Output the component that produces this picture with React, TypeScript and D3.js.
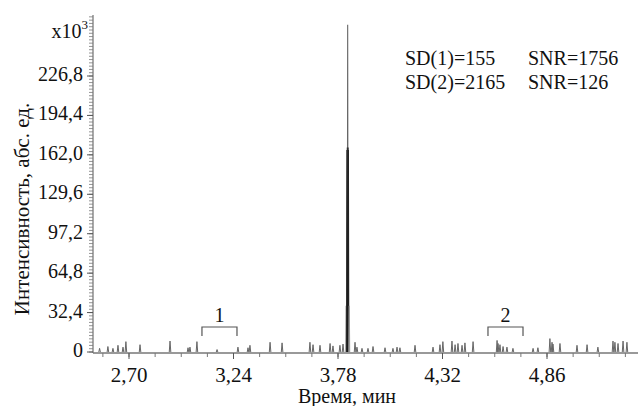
import React from "react";
import * as d3 from "d3";

const W = 638;
const H = 406;

// Y axis ticks (x10^3)
const yTicks = [0, 32.4, 64.8, 97.2, 129.6, 162.0, 194.4, 226.8];
const yTickLabels = ["0", "32,4", "64,8", "97,2", "129,6", "162,0", "194,4", "226,8"];
// X axis ticks (min)
const xTicks = [2.70, 3.24, 3.78, 4.32, 4.86];
const xTickLabels = ["2,70", "3,24", "3,78", "4,32", "4,86"];

// Baseline noise spikes: retention time (min) and height (x10^3)
const noiseTimes = [
  2.548, 2.591, 2.617, 2.643, 2.669, 2.684, 2.757, 2.912, 3.005, 3.015, 3.051, 3.155,
  3.263, 3.315, 3.325, 3.429, 3.491, 3.635, 3.651, 3.687, 3.739, 3.754, 3.790, 3.806,
  3.868, 3.878, 3.904, 3.935, 3.961, 4.023, 4.064, 4.085, 4.100, 4.178, 4.271, 4.307,
  4.322, 4.369, 4.385, 4.400, 4.421, 4.436, 4.478, 4.602, 4.607, 4.617, 4.633, 4.653,
  4.684, 4.788, 4.813, 4.875, 4.886, 4.891, 4.927, 5.015, 5.067, 5.123, 5.201, 5.211,
  5.227, 5.253, 5.273,
];
const noiseHeights = [
  3.0, 4.5, 3.0, 5.5, 4.0, 8.5, 6.0, 9.0, 3.5, 4.0, 8.5, 2.0,
  4.0, 3.5, 5.5, 8.0, 7.5, 8.0, 6.0, 5.5, 7.0, 5.0, 5.5, 6.5,
  8.0, 4.0, 3.0, 3.0, 4.5, 3.5, 3.0, 4.0, 3.5, 5.5, 4.0, 6.0,
  8.5, 9.0, 6.0, 7.0, 5.5, 7.5, 8.5, 9.5, 7.0, 6.0, 4.5, 4.0,
  3.0, 3.0, 3.5, 11.0, 8.0, 6.5, 7.0, 5.5, 6.0, 4.0, 9.0, 8.0,
  7.0, 9.0, 8.0,
];

// Main peak components (min, x10^3)
const peakTimes = [3.822, 3.8265, 3.8285, 3.830, 3.8315, 3.8335, 3.838];
const peakHeights = [38, 166, 168, 269, 168, 166, 38];
const peakColors = ["#999", "#222", "#111", "#666", "#111", "#222", "#999"];

// Marked noise regions
const regionStarts = [3.077, 4.555];
const regionEnds = [3.258, 4.736];
const regionLabels = ["1", "2"];

const statsLeft = ["SD(1)=155", "SD(2)=2165"];
const statsRight = ["SNR=1756", "SNR=126"];

const FONT = "Liberation Serif, Times New Roman, DejaVu Serif, serif";
const ts: React.CSSProperties = { fontFamily: FONT };

export default function App() {
  const x0 = 93;
  const yBase = 352;
  const x = d3.scaleLinear().domain([2.70, 3.24]).range([129, 233.5]);
  const tMax = x.invert(W);
  const y = d3.scaleLinear().domain([0, 226.8]).range([yBase, 76]);
  const yTop = 15;
  const yMaxVal = y.invert(yTop);

  const spike = d3
    .line<[number, number]>()
    .x((d) => x(d[0]))
    .y((d) => y(d[1]));
  const hw = 0.004;

  const yMinor = d3.range(0, yMaxVal, 2.7);
  const xMinor = d3.range(2.70 - 0.135, tMax, 0.135);

  return (
    <svg
      width={W}
      height={H}
      style={{ position: "absolute", left: 0, top: 0, background: "#fff", fontFamily: FONT }}
    >
      <rect width={W} height={H} fill="#fff" />
      {/* Y axis */}
      <line x1={x0} x2={x0} y1={yTop} y2={yBase + 1} stroke="#555" strokeWidth={1} />
      {yMinor.map((v, i) => (
        <line key={"ym" + i} x1={x0 - 4} x2={x0} y1={y(v)} y2={y(v)} stroke="#777" strokeWidth={0.8} />
      ))}
      {yTicks.map((v, i) => (
        <g key={"yt" + i}>
          <line x1={x0 - 6} x2={x0} y1={y(v)} y2={y(v)} stroke="#555" strokeWidth={1} />
          <text style={ts} x={83} y={y(v) - 2} textAnchor="end" dominantBaseline="central" fontSize={20} fill="#111">
            {yTickLabels[i]}
          </text>
        </g>
      ))}
      <text style={ts} x={88} y={38} textAnchor="end" fontSize={20} fill="#111">
        x10<tspan dy={-9} fontSize={13}>3</tspan>
      </text>
      <text
        style={ts}
        transform={`translate(29, 209) rotate(-90)`}
        textAnchor="middle"
        fontSize={21}
        fill="#111"
      >
        Интенсивность, абс. ед.
      </text>

      {/* X axis */}
      <line x1={x0} x2={W} y1={yBase + 1} y2={yBase + 1} stroke="#777" strokeWidth={1.4} />
      {xMinor.map((v, i) => (
        <line key={"xm" + i} x1={x(v)} x2={x(v)} y1={yBase + 1} y2={yBase + 5} stroke="#777" strokeWidth={1} />
      ))}
      {xTicks.map((v, i) => (
        <g key={"xt" + i}>
          <line x1={x(v)} x2={x(v)} y1={yBase + 1} y2={yBase + 7} stroke="#555" strokeWidth={1} />
          <text style={ts} x={x(v)} y={382} textAnchor="middle" fontSize={21} fill="#111">
            {xTickLabels[i]}
          </text>
        </g>
      ))}
      <text style={ts} x={347} y={403} textAnchor="middle" fontSize={20} fill="#111">
        Время, мин
      </text>

      {/* Noise spikes */}
      {noiseTimes.map((t, i) => (
        <path
          key={"n" + i}
          d={spike([
            [t - hw, 0],
            [t, noiseHeights[i]],
            [t + hw, 0],
          ]) as string}
          fill="none"
          stroke="#666"
          strokeWidth={1}
        />
      ))}
      {/* Main peak */}
      {peakTimes.map((t, i) => (
        <path
          key={"p" + i}
          d={spike([
            [t - 0.002, 0],
            [t, peakHeights[i]],
            [t + 0.002, 0],
          ]) as string}
          fill="none"
          stroke={peakColors[i]}
          strokeWidth={i === 3 ? 1.1 : 1.2}
        />
      ))}

      {/* Region brackets */}
      {regionStarts.map((s, i) => (
        <g key={"r" + i}>
          <path
            d={`M${x(s)},336V327H${x(regionEnds[i])}V336`}
            fill="none"
            stroke="#555"
            strokeWidth={1.2}
          />
          <text style={ts} x={(x(s) + x(regionEnds[i])) / 2} y={322} textAnchor="middle" fontSize={20} fill="#111">
            {regionLabels[i]}
          </text>
        </g>
      ))}

      {/* Stats */}
      {statsLeft.map((s, i) => (
        <g key={"s" + i}>
          <text style={ts} x={405} y={65 + i * 24} fontSize={20} fill="#111">
            {s}
          </text>
          <text style={ts} x={528} y={65 + i * 24} fontSize={20} fill="#111">
            {statsRight[i]}
          </text>
        </g>
      ))}
    </svg>
  );
}
